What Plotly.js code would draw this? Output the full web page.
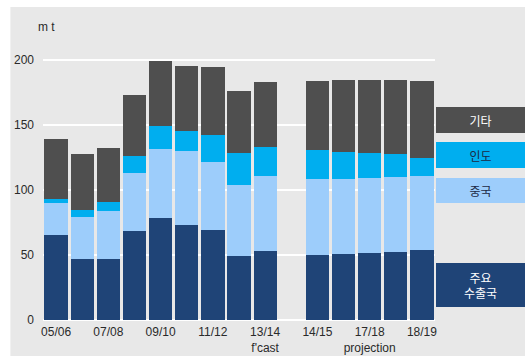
<!DOCTYPE html>
<html>
<head>
<meta charset="utf-8">
<script src="https://cdn.plot.ly/plotly-3.0.1.min.js"></script>
<style>
  html, body { margin: 0; padding: 0; background: #ffffff; }
  #chart { width: 525px; height: 356px; }
</style>
</head>
<body>
<div id="chart"></div>
<script>
// Seasons (one blank slot separates the forecast from the projection)
const categories = ['05/06', '06/07', '07/08', '08/09', '09/10', '10/11', '11/12', '12/13', '13/14',
                    ' ', '14/15', '15/16', '16/17', '17/18', '18/19'];

// Stacked volumes, million tonnes
const exporters = [65.0, 47.1, 47.1, 68.6, 78.3, 72.9, 69.1, 49.1, 53.0, null, 50.2, 50.7, 51.2, 52.2, 53.5];
const china     = [24.6, 32.2, 36.6, 44.0, 53.2, 56.6, 52.5, 54.5, 57.8, null, 57.8, 57.8, 57.8, 57.6, 56.8];
const india     = [ 3.3,  5.2,  7.1, 13.0, 17.2, 15.6, 20.4, 24.6, 22.3, null, 22.2, 20.7, 19.0, 17.4, 13.8];
const others    = [46.1, 43.2, 41.5, 46.9, 50.3, 49.9, 52.0, 47.4, 49.4, null, 53.6, 55.4, 56.6, 57.4, 59.2];

// Series names (drawn in the label boxes on the right)
const seriesNames = ['주요<br>수출국', '중국', '인도', '기타'];

// Axis labelling
const tickCats   = ['05/06', '07/08', '09/10', '11/12', '13/14', '14/15', '16/17', '18/19'];
const tickLabels = ['05/06', '07/08', '09/10', '11/12', "13/14<br>f'cast", '14/15', '17/18<br>projection', '18/19'];
const yTicks     = [0, 50, 100, 150, 200];
const unitLabel  = 'm t';

const colors    = ['#1f4477', '#9dcdfb', '#00aeef', '#4f4f4f'];
const textColor = ['#ffffff', '#1c2a44', '#1c2a44', '#ffffff'];
const seriesData = [exporters, china, india, others];

const traces = seriesData.map((vals, i) => ({
  type: 'bar',
  x: categories,
  y: vals,
  name: seriesNames[i],
  marker: { color: colors[i], line: { width: 0 } },
  hoverinfo: 'skip'
}));

// Label boxes beside the bars: centre value on the y axis and box height
const boxY = [26.9, 99.2, 127.0, 153.6];
const boxH = [44, 25, 26, 26];
const boxes = seriesNames.map((name, i) => ({
  xref: 'paper', yref: 'y',
  x: 1.0026, y: boxY[i],
  xanchor: 'left', yanchor: 'middle',
  text: name,
  showarrow: false,
  width: 89, height: boxH[i],
  bgcolor: colors[i],
  borderpad: 0, borderwidth: 0,
  align: 'center', valign: 'middle',
  font: { family: 'Noto Sans CJK KR, sans-serif', size: 12, color: textColor[i] }
}));

const layout = {
  width: 525, height: 356,
  margin: { l: 42.6, r: 90.3, t: 40, b: 36, pad: 0 },
  paper_bgcolor: '#ffffff',
  plot_bgcolor: 'rgba(0,0,0,0)',
  barmode: 'stack',
  bargap: 0.11,
  showlegend: false,
  font: { family: 'Liberation Sans, Arial, sans-serif', size: 12, color: '#2a2a2a' },
  xaxis: {
    type: 'category',
    categoryorder: 'array',
    categoryarray: categories,
    range: [-0.5, 14.5],
    tickmode: 'array',
    tickvals: tickCats,
    ticktext: tickLabels,
    showgrid: false,
    zeroline: false,
    showline: false,
    ticks: '',
    ticklabelstandoff: 3,
    tickfont: { size: 12, color: '#2a2a2a' }
  },
  yaxis: {
    range: [0, 215],
    tickmode: 'array',
    tickvals: yTicks,
    showgrid: true,
    gridcolor: '#ffffff',
    gridwidth: 2,
    zeroline: true,
    zerolinecolor: '#ffffff',
    zerolinewidth: 2,
    showline: false,
    ticks: '',
    ticklabelstandoff: 8,
    tickfont: { size: 12, color: '#2a2a2a' }
  },
  shapes: [{
    // grey panel behind the whole chart
    type: 'rect', xref: 'paper', yref: 'paper', layer: 'below',
    x0: -0.0832, x1: 1.4, y0: -0.3, y1: 1.118,
    fillcolor: '#e8e8e8', line: { width: 0 }
  }],
  annotations: [{
    xref: 'paper', yref: 'paper',
    x: -0.017, y: 1.0464, xanchor: 'left', yanchor: 'middle',
    text: unitLabel, showarrow: false,
    font: { size: 12, color: '#2a2a2a' }
  }].concat(boxes)
};

Plotly.newPlot('chart', traces, layout, { staticPlot: true, displayModeBar: false });
</script>
</body>
</html>
